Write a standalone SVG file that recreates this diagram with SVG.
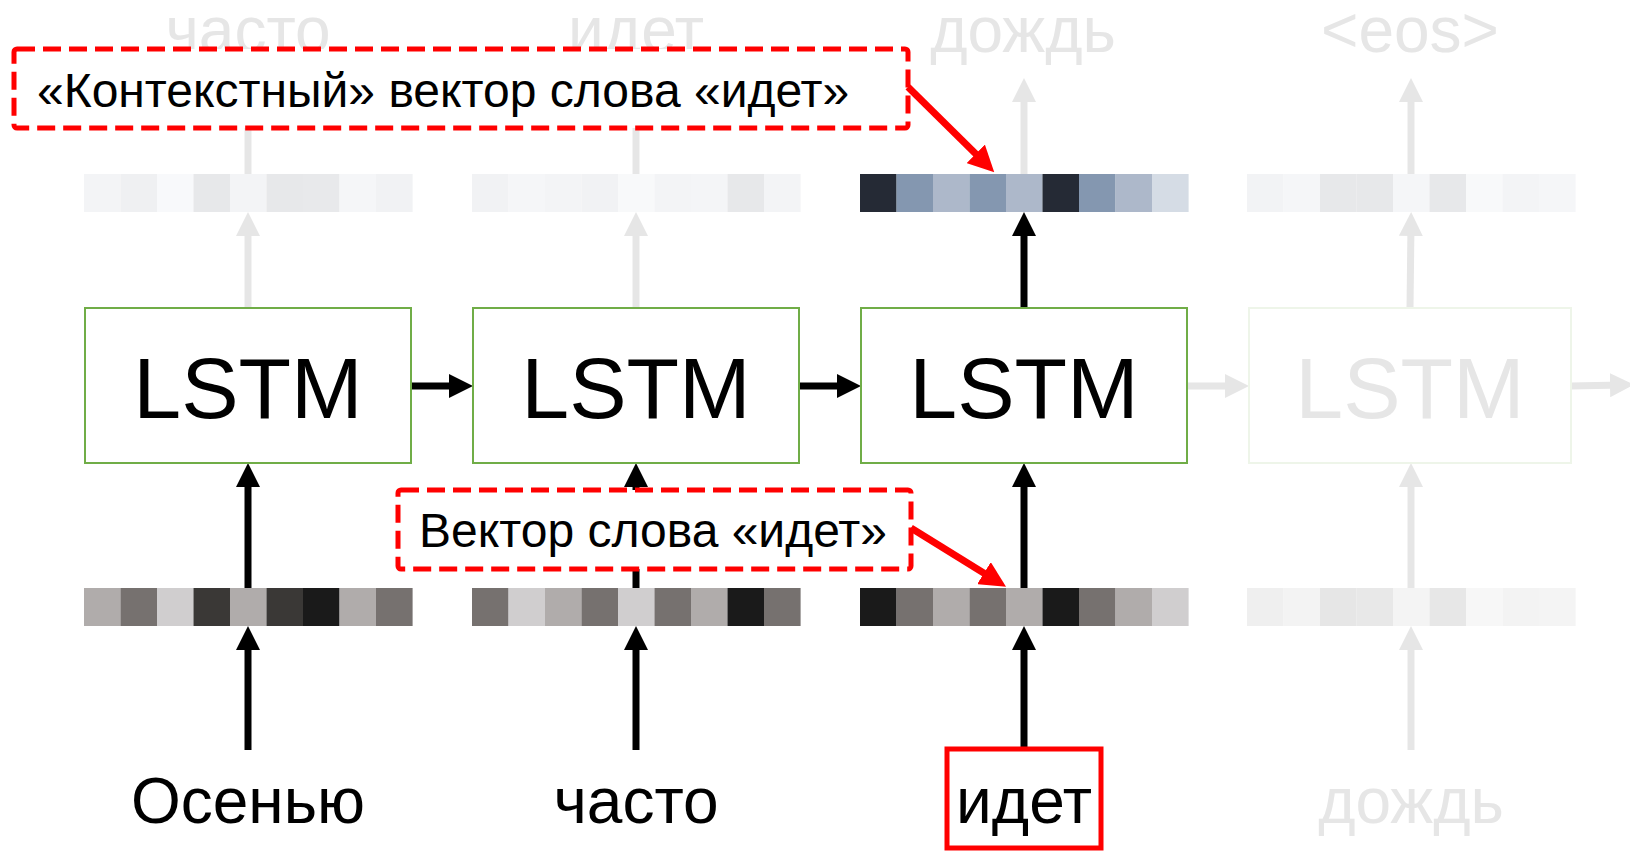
<svg xmlns="http://www.w3.org/2000/svg" width="1630" height="852" viewBox="0 0 1630 852">
<style>
text{font-family:"Liberation Sans",Arial,sans-serif;}
.word{font-size:64px;text-anchor:middle;fill:#000;}
.lstm{fill:#fff;stroke:#70ad47;stroke-width:2;}
.lstm-f{fill:#fff;stroke:#eef5e9;stroke-width:2;}
.lt{font-size:86px;text-anchor:middle;fill:#000;}
.faded{fill:#e6e6e6;}
.blk{stroke:#000;stroke-width:7;fill:none;marker-end:url(#ah-b);}
.gry{stroke:#e6e6e6;stroke-width:7;fill:none;marker-end:url(#ah-g);}
.red{stroke:#ff0000;stroke-width:7;fill:none;marker-end:url(#ah-r);}
.lbl{fill:#fff;stroke:#ff0000;stroke-width:5;stroke-dasharray:18 8;}
.lbt{font-size:48px;fill:#000;}
</style>
<defs>
<marker id="ah-b" markerUnits="userSpaceOnUse" markerWidth="24" markerHeight="24" refX="12" refY="12" orient="auto"><path d="M0,0 L24,12 L0,24 z" fill="#000"/></marker>
<marker id="ah-g" markerUnits="userSpaceOnUse" markerWidth="24" markerHeight="24" refX="12" refY="12" orient="auto"><path d="M0,0 L24,12 L0,24 z" fill="#e6e6e6"/></marker>
<marker id="ah-r" markerUnits="userSpaceOnUse" markerWidth="26" markerHeight="26" refX="13" refY="13" orient="auto"><path d="M0,0 L26,13 L0,26 z" fill="#ff0000"/></marker>
</defs>
<rect width="1630" height="852" fill="#fff"/>

<g id="outputs-words">
<text class="word faded" x="248" y="52">часто</text>
<text class="word faded" x="636" y="52">идет</text>
<text class="word faded" x="1023" y="52">дождь</text>
<text class="word faded" x="1410" y="52">&lt;eos&gt;</text>
</g>

<g id="connectors">
<line class="blk" x1="248" y1="750" x2="248" y2="638"/>
<line class="blk" x1="636" y1="750" x2="636" y2="638"/>
<line class="blk" x1="1024" y1="750" x2="1024" y2="638"/>
<line class="gry" x1="1411" y1="750" x2="1411" y2="638"/>
<line class="blk" x1="248" y1="588" x2="248" y2="475"/>
<line class="blk" x1="636" y1="588" x2="636" y2="475"/>
<line class="blk" x1="1024" y1="588" x2="1024" y2="475"/>
<line class="gry" x1="1411" y1="588" x2="1411" y2="475"/>
<line class="gry" x1="248" y1="308" x2="248" y2="224"/>
<line class="gry" x1="636" y1="308" x2="636" y2="224"/>
<line class="blk" x1="1024" y1="308" x2="1024" y2="224"/>
<line class="gry" x1="1410" y1="308" x2="1411" y2="224"/>
<line class="gry" x1="248" y1="174" x2="248" y2="90"/>
<line class="gry" x1="636" y1="174" x2="636" y2="90"/>
<line class="gry" x1="1024" y1="174" x2="1024" y2="90"/>
<line class="gry" x1="1411" y1="174" x2="1411" y2="90"/>
<line class="blk" x1="411" y1="386" x2="461" y2="386"/>
<line class="blk" x1="799" y1="386" x2="849" y2="386"/>
<line class="gry" x1="1187" y1="386" x2="1237" y2="386"/>
<line class="gry" x1="1571" y1="386" x2="1622" y2="385"/>
</g>

<g id="vec-out-1">
<rect x="84" y="174" width="36.6" height="38" fill="#f3f4f6"/>
<rect x="120.5" y="174" width="36.6" height="38" fill="#eff0f2"/>
<rect x="157" y="174" width="36.6" height="38" fill="#f8f9fb"/>
<rect x="193.5" y="174" width="36.6" height="38" fill="#e7e8ea"/>
<rect x="230" y="174" width="36.6" height="38" fill="#f3f4f6"/>
<rect x="266.5" y="174" width="36.6" height="38" fill="#e7e8ea"/>
<rect x="303" y="174" width="36.6" height="38" fill="#e8e9eb"/>
<rect x="339.5" y="174" width="36.6" height="38" fill="#f5f6f8"/>
<rect x="376" y="174" width="36.6" height="38" fill="#f1f2f4"/>
</g>
<g id="vec-out-2">
<rect x="472" y="174" width="36.6" height="38" fill="#f1f2f4"/>
<rect x="508.5" y="174" width="36.6" height="38" fill="#f5f6f8"/>
<rect x="545" y="174" width="36.6" height="38" fill="#f3f4f6"/>
<rect x="581.5" y="174" width="36.6" height="38" fill="#f1f2f4"/>
<rect x="618" y="174" width="36.6" height="38" fill="#f8f9fa"/>
<rect x="654.5" y="174" width="36.6" height="38" fill="#f3f4f6"/>
<rect x="691" y="174" width="36.6" height="38" fill="#f4f5f7"/>
<rect x="727.5" y="174" width="36.6" height="38" fill="#e7e8ea"/>
<rect x="764" y="174" width="36.6" height="38" fill="#f3f4f6"/>
</g>
<g id="vec-out-3">
<rect x="860" y="174" width="36.6" height="38" fill="#252a35"/>
<rect x="896.5" y="174" width="36.6" height="38" fill="#8497b0"/>
<rect x="933" y="174" width="36.6" height="38" fill="#adb8ca"/>
<rect x="969.5" y="174" width="36.6" height="38" fill="#8497b0"/>
<rect x="1006" y="174" width="36.6" height="38" fill="#adb8ca"/>
<rect x="1042.5" y="174" width="36.6" height="38" fill="#252a35"/>
<rect x="1079" y="174" width="36.6" height="38" fill="#8497b0"/>
<rect x="1115.5" y="174" width="36.6" height="38" fill="#adb8ca"/>
<rect x="1152" y="174" width="36.6" height="38" fill="#d5dce5"/>
</g>
<g id="vec-out-4">
<rect x="1247" y="174" width="36.6" height="38" fill="#f2f3f5"/>
<rect x="1283.5" y="174" width="36.6" height="38" fill="#f5f6f8"/>
<rect x="1320" y="174" width="36.6" height="38" fill="#e7e8ea"/>
<rect x="1356.5" y="174" width="36.6" height="38" fill="#e7e8ea"/>
<rect x="1393" y="174" width="36.6" height="38" fill="#f5f6f8"/>
<rect x="1429.5" y="174" width="36.6" height="38" fill="#e7e8ea"/>
<rect x="1466" y="174" width="36.6" height="38" fill="#f8f9fa"/>
<rect x="1502.5" y="174" width="36.6" height="38" fill="#f3f4f6"/>
<rect x="1539" y="174" width="36.6" height="38" fill="#f5f6f8"/>
</g>

<g id="vec-in-1">
<rect x="84" y="588" width="36.6" height="38" fill="#b0acab"/>
<rect x="120.5" y="588" width="36.6" height="38" fill="#76716f"/>
<rect x="157" y="588" width="36.6" height="38" fill="#d0cecf"/>
<rect x="193.5" y="588" width="36.6" height="38" fill="#3a3836"/>
<rect x="230" y="588" width="36.6" height="38" fill="#b0acab"/>
<rect x="266.5" y="588" width="36.6" height="38" fill="#3a3836"/>
<rect x="303" y="588" width="36.6" height="38" fill="#1a1a1a"/>
<rect x="339.5" y="588" width="36.6" height="38" fill="#b0acab"/>
<rect x="376" y="588" width="36.6" height="38" fill="#76716f"/>
</g>
<g id="vec-in-2">
<rect x="472" y="588" width="36.6" height="38" fill="#76716f"/>
<rect x="508.5" y="588" width="36.6" height="38" fill="#d0cecf"/>
<rect x="545" y="588" width="36.6" height="38" fill="#b0acab"/>
<rect x="581.5" y="588" width="36.6" height="38" fill="#76716f"/>
<rect x="618" y="588" width="36.6" height="38" fill="#d0cecf"/>
<rect x="654.5" y="588" width="36.6" height="38" fill="#76716f"/>
<rect x="691" y="588" width="36.6" height="38" fill="#b0acab"/>
<rect x="727.5" y="588" width="36.6" height="38" fill="#1a1a1a"/>
<rect x="764" y="588" width="36.6" height="38" fill="#76716f"/>
</g>
<g id="vec-in-3">
<rect x="860" y="588" width="36.6" height="38" fill="#1a1a1a"/>
<rect x="896.5" y="588" width="36.6" height="38" fill="#76716f"/>
<rect x="933" y="588" width="36.6" height="38" fill="#b0acab"/>
<rect x="969.5" y="588" width="36.6" height="38" fill="#76716f"/>
<rect x="1006" y="588" width="36.6" height="38" fill="#b0acab"/>
<rect x="1042.5" y="588" width="36.6" height="38" fill="#1a1a1a"/>
<rect x="1079" y="588" width="36.6" height="38" fill="#76716f"/>
<rect x="1115.5" y="588" width="36.6" height="38" fill="#b0acab"/>
<rect x="1152" y="588" width="36.6" height="38" fill="#d0cecf"/>
</g>
<g id="vec-in-4">
<rect x="1247" y="588" width="36.6" height="38" fill="#efefef"/>
<rect x="1283.5" y="588" width="36.6" height="38" fill="#f3f3f3"/>
<rect x="1320" y="588" width="36.6" height="38" fill="#e6e6e6"/>
<rect x="1356.5" y="588" width="36.6" height="38" fill="#e8e8e8"/>
<rect x="1393" y="588" width="36.6" height="38" fill="#f4f4f4"/>
<rect x="1429.5" y="588" width="36.6" height="38" fill="#e7e7e7"/>
<rect x="1466" y="588" width="36.6" height="38" fill="#f7f7f7"/>
<rect x="1502.5" y="588" width="36.6" height="38" fill="#f3f3f3"/>
<rect x="1539" y="588" width="36.6" height="38" fill="#f4f4f4"/>
</g>

<g id="lstm-1"><rect class="lstm" x="85" y="308" width="326" height="155"/><text class="lt" x="248" y="418">LSTM</text></g>
<g id="lstm-2"><rect class="lstm" x="473" y="308" width="326" height="155"/><text class="lt" x="636" y="418">LSTM</text></g>
<g id="lstm-3"><rect class="lstm" x="861" y="308" width="326" height="155"/><text class="lt" x="1024" y="418">LSTM</text></g>
<g id="lstm-4"><rect class="lstm-f" x="1249" y="308" width="322" height="155"/><text class="lt faded" x="1410" y="418">LSTM</text></g>

<g id="inputs-words">
<text class="word" x="248" y="823">Осенью</text>
<text class="word" x="636" y="823">часто</text>
<g id="word-idet"><rect x="947" y="749" width="154" height="99" fill="none" stroke="#ff0000" stroke-width="5"/><text class="word" x="1024" y="823">идет</text></g>
<text class="word faded" x="1411" y="823">дождь</text>
</g>

<g id="label-context">
<rect class="lbl" x="14" y="49" width="894" height="79" rx="3"/>
<text class="lbt" x="37" y="107">«Контекстный» вектор слова «идет»</text>
</g>
<g id="label-vector">
<rect class="lbl" x="398" y="490" width="513" height="79" rx="3"/>
<text class="lbt" x="419" y="547">Вектор слова «идет»</text>
</g>

<g id="annotation-arrows">
<line class="red" x1="908" y1="87" x2="985" y2="163"/>
<line class="red" x1="911" y1="528" x2="995" y2="580"/>
</g>
</svg>
